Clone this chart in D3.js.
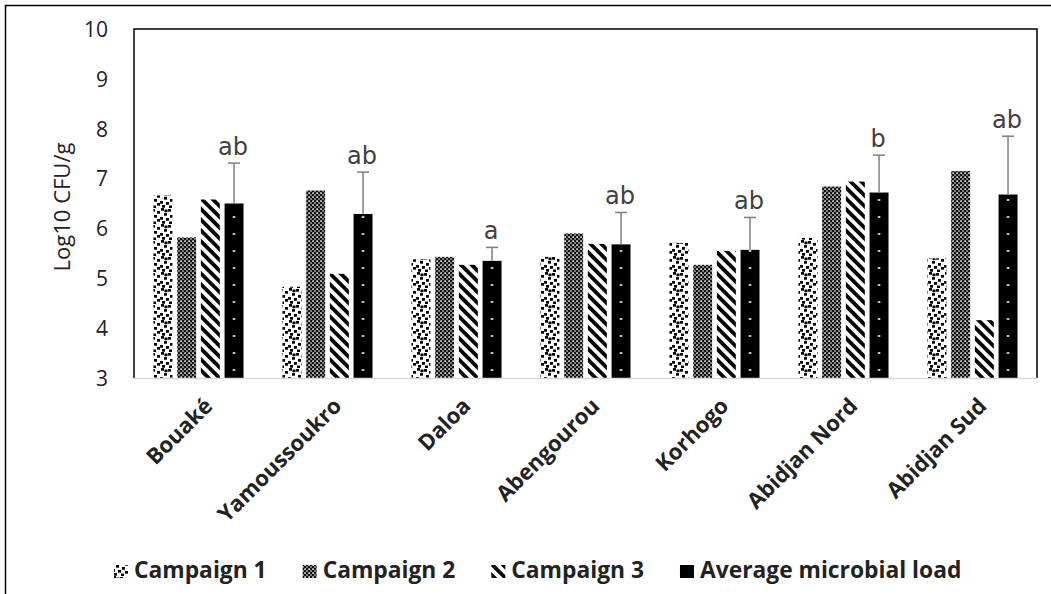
<!DOCTYPE html>
<html>
<head>
<meta charset="utf-8">
<script src="https://cdn.jsdelivr.net/npm/d3@7"></script>
<style>
  html, body { margin: 0; padding: 0; background: #fff; }
  svg { display: block; }
</style>
</head>
<body>
<svg id="chart" width="1051" height="594"></svg>
<script>
// ---------------- DATA ----------------
const categories = ["Bouaké", "Yamoussoukro", "Daloa", "Abengourou", "Korhogo", "Abidjan Nord", "Abidjan Sud"];
const seriesNames = ["Campaign 1", "Campaign 2", "Campaign 3", "Average microbial load"];
const campaign1 = [6.66, 4.83, 5.38, 5.43, 5.71, 5.81, 5.40];
const campaign2 = [5.82, 6.76, 5.43, 5.90, 5.27, 6.84, 7.15];
const campaign3 = [6.58, 5.09, 5.27, 5.69, 5.55, 6.94, 4.16];
const averageLoad = [6.50, 6.29, 5.35, 5.68, 5.57, 6.72, 6.68];
const averageSD = [0.81, 0.84, 0.27, 0.64, 0.65, 0.75, 1.17];
const groupLetters = ["ab", "ab", "a", "ab", "ab", "b", "ab"];
const yTicks = [3, 4, 5, 6, 7, 8, 9, 10];
const yTitle = "Log10 CFU/g";

// ---------------- LAYOUT ----------------
const svg = d3.select("#chart");
const W = 1051, H = 594;
const plot = { left: 134, top: 29, right: 1037, bottom: 378 };
const FONT = "'Open Sans', 'Noto Sans', sans-serif";
const LETTER_FONT = "'DejaVu Sans', 'Liberation Sans', sans-serif";

svg.append("rect").attr("width", W).attr("height", H).attr("fill", "#fff");

// outer image border (left & top only visible)
svg.append("path")
  .attr("d", `M5.5,${H} L5.5,5.5 L${W},5.5`)
  .attr("fill", "none").attr("stroke", "#000").attr("stroke-width", 1.5);

const series = [campaign1, campaign2, campaign3, averageLoad];

const x0 = d3.scaleBand().domain(categories)
  .range([plot.left, plot.right]).paddingInner(0.302).paddingOuter(0.151);
const x1 = d3.scaleBand().domain(d3.range(series.length))
  .range([0, x0.bandwidth()]).paddingInner(0.2).paddingOuter(0);
const y = d3.scaleLinear().domain([3, 10]).range([plot.bottom, plot.top]);

// ---------------- PATTERNS ----------------
const defs = svg.append("defs");

// Campaign 1: large confetti
const p1 = defs.append("pattern").attr("id", "pat1")
  .attr("patternUnits", "userSpaceOnUse").attr("width", 16).attr("height", 16);
p1.append("rect").attr("width", 16).attr("height", 16).attr("fill", "#fff");
[[1,0],[8,1],[13,3],[4,5],[10,7],[0,9],[6,10],[13,11],[2,13],[9,13.5],[4.5,1.5]].forEach(([a,b]) => {
  p1.append("rect").attr("x", a).attr("y", b).attr("width", 3).attr("height", 2.7).attr("fill", "#000");
});

// Campaign 2: dense dark lattice with small white holes
const p2 = defs.append("pattern").attr("id", "pat2")
  .attr("patternUnits", "userSpaceOnUse").attr("width", 4).attr("height", 4);
p2.append("rect").attr("width", 4).attr("height", 4).attr("fill", "#111");
p2.append("rect").attr("x", 0.3).attr("y", 0.3).attr("width", 1.6).attr("height", 1.6).attr("fill", "#fff");
p2.append("rect").attr("x", 2.3).attr("y", 2.3).attr("width", 1.4).attr("height", 1.4).attr("fill", "#eee");

// Campaign 3: wide downward diagonal stripes
const p3 = defs.append("pattern").attr("id", "pat3")
  .attr("patternUnits", "userSpaceOnUse").attr("width", 7.6).attr("height", 20)
  .attr("patternTransform", "rotate(-45)");
p3.append("rect").attr("width", 7.6).attr("height", 20).attr("fill", "#fff");
p3.append("rect").attr("width", 3.8).attr("height", 20).attr("fill", "#000");

// Average: black with white dots (one pattern per bar, aligned to bar)
categories.forEach((c, i) => {
  const bx = x0(c) + x1(3);
  const bw = x1.bandwidth();
  const p = defs.append("pattern").attr("id", "pat4_" + i)
    .attr("patternUnits", "userSpaceOnUse")
    .attr("x", bx).attr("y", plot.bottom)
    .attr("width", bw).attr("height", 17);
  p.append("rect").attr("width", bw).attr("height", 17).attr("fill", "#000");
  p.append("rect").attr("x", bw / 2 - 1).attr("y", 8).attr("width", 2).attr("height", 2).attr("fill", "#fff");
});
const fillFor = (s, i) => s === 3 ? `url(#pat4_${i})` : `url(#pat${s + 1})`;

// ---------------- BARS ----------------
const gBars = svg.append("g");
categories.forEach((c, i) => {
  series.forEach((vals, s) => {
    gBars.append("rect")
      .attr("x", x0(c) + x1(s))
      .attr("y", y(vals[i]))
      .attr("width", x1.bandwidth())
      .attr("height", y(3) - y(vals[i]))
      .attr("fill", fillFor(s, i));
  });
});

// ---------------- ERROR BARS & LETTERS ----------------
const gErr = svg.append("g");
categories.forEach((c, i) => {
  const cx = x0(c) + x1(3) + x1.bandwidth() / 2;
  const top = y(averageLoad[i] + averageSD[i]);
  gErr.append("line").attr("x1", cx).attr("x2", cx)
    .attr("y1", y(averageLoad[i])).attr("y2", top)
    .attr("stroke", "#7f7f7f").attr("stroke-width", 1.5);
  gErr.append("line").attr("x1", cx - 6).attr("x2", cx + 6)
    .attr("y1", top).attr("y2", top)
    .attr("stroke", "#7f7f7f").attr("stroke-width", 1.5);
  gErr.append("text")
    .attr("x", cx - 1).attr("y", top - 8)
    .attr("text-anchor", "middle")
    .attr("font-family", LETTER_FONT).attr("font-size", 24)
    .attr("fill", "#404040")
    .text(groupLetters[i]);
});

// ---------------- PLOT FRAME ----------------
svg.append("path")
  .attr("d", `M${plot.left},${plot.bottom} L${plot.left},${plot.top} L${plot.right},${plot.top} L${plot.right},${plot.bottom}`)
  .attr("fill", "none").attr("stroke", "#000").attr("stroke-width", 1.5);
svg.append("line")
  .attr("x1", plot.left).attr("x2", plot.right)
  .attr("y1", plot.bottom + 0.5).attr("y2", plot.bottom + 0.5)
  .attr("stroke", "#d9d9d9").attr("stroke-width", 1.5);

// ---------------- Y AXIS ----------------
const yAxis = d3.axisLeft(y).tickValues(yTicks).tickSize(0).tickPadding(0).tickFormat(d3.format("d"));
const gy = svg.append("g").attr("transform", `translate(108,0)`).call(yAxis);
gy.select(".domain").remove();
gy.selectAll("text")
  .attr("font-family", FONT).attr("font-size", 21).attr("fill", "#222")
  .attr("dy", "0.35em");

svg.append("text")
  .attr("transform", `translate(70,${(137 + 277) / 2}) rotate(-90)`)
  .attr("text-anchor", "middle")
  .attr("font-family", FONT).attr("font-size", 22).attr("fill", "#222")
  .text(yTitle);

// ---------------- X AXIS LABELS ----------------
const gx = svg.append("g");
categories.forEach(c => {
  const cx = x0(c) + x0.bandwidth() / 2;
  gx.append("text")
    .attr("transform", `translate(${cx + 10},${plot.bottom + 24}) rotate(-45)`)
    .attr("text-anchor", "end")
    .attr("dy", "0.35em")
    .attr("font-family", FONT).attr("font-size", 22).attr("font-weight", "bold")
    .attr("fill", "#222")
    .text(c);
});

// ---------------- LEGEND ----------------
const gl = svg.append("g");
let lx = 114;
seriesNames.forEach((name, s) => {
  gl.append("rect").attr("x", lx).attr("y", 565).attr("width", 14).attr("height", 13)
    .attr("fill", s === 3 ? "#000" : `url(#pat${s + 1})`);
  const t = gl.append("text").attr("x", lx + 20).attr("y", 578)
    .attr("font-family", FONT).attr("font-size", 22.8).attr("font-weight", "bold")
    .attr("fill", "#222").text(name);
  lx = lx + 20 + t.node().getComputedTextLength() + 36;
});
</script>
</body>
</html>
